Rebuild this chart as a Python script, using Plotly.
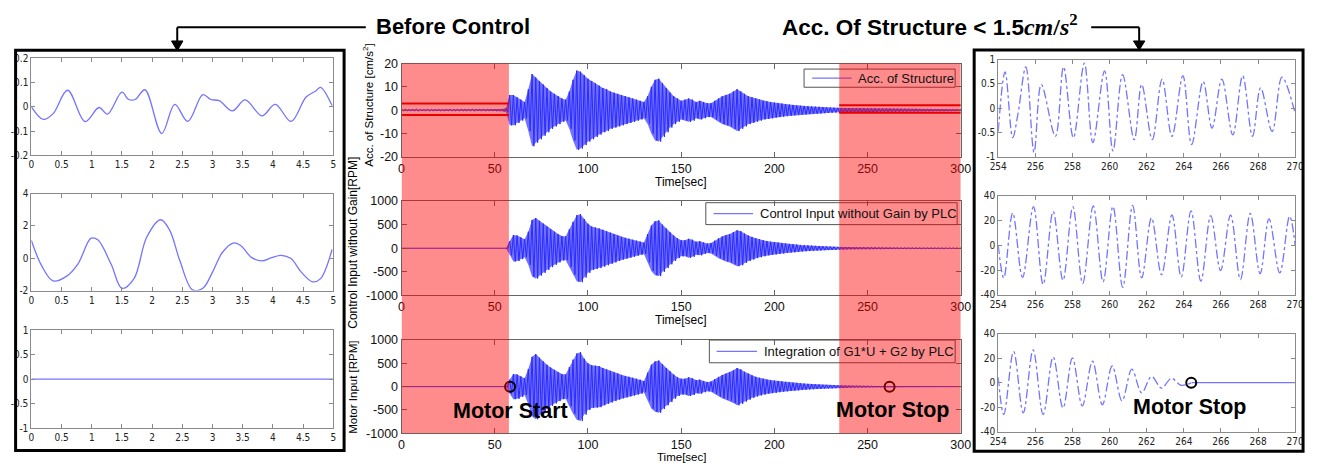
import numpy as np
import plotly.graph_objects as go

W, H = 1317, 470

# ---------------- data ----------------
# Left column: "Before Control" (0-5 s)
bc_t_acc = [0, 0.2, 0.36, 0.6, 0.89, 1.12, 1.26, 1.5, 1.61, 1.72, 1.88, 2.16, 2.375, 2.59,
            2.84, 2.97, 3.11, 3.33, 3.54, 3.82, 4.04, 4.3, 4.55, 4.71, 4.79, 4.98]
bc_acc = [0, -0.052, -0.028, 0.068, -0.061, -0.003, -0.03, 0.06, 0.03, 0.03, 0.07, -0.11, 0.01, -0.06,
          0.05, 0.03, 0.025, -0.017, 0.028, -0.037, 0.01, -0.06, 0.04, 0.065, 0.08, 0.005]
bc_t_ctrl = [0, 0.17, 0.36, 0.58, 0.77, 0.99, 1.1, 1.32, 1.5, 1.7, 1.91, 2.14, 2.29, 2.46, 2.67,
             2.84, 3.0, 3.16, 3.34, 3.46, 3.65, 3.82, 3.98, 4.14, 4.3, 4.47, 4.66, 4.79, 4.98]
bc_ctrl = [1.1, -0.46, -1.4, -1.12, -0.36, 1.24, 1.14, -0.36, -1.86, -1.26, 1.3, 2.38, 1.74, -0.16, -1.96,
           -1.86, -0.86, 0.34, 0.94, 0.8, 0.04, -0.16, 0.04, 0.18, -0.02, -0.86, -1.46, -1.26, 0.54]
bc_t_motor = [0, 5]
bc_motor = [0, 0]

# Centre column: whole test (0-300 s), envelope amplitude every 2 s
env_t = list(range(0, 301, 2))
acc_amp = ([0.3, 0.4, 0.3, 0.3, 0.4, 0.3, 0.3, 0.4, 0.3, 0.3, 0.4, 0.3, 0.3, 0.4, 0.3,
            0.3, 0.4, 0.3, 0.3, 0.4, 0.3, 0.3, 0.4, 0.3, 0.3, 0.4, 0.3, 0.5, 0.8] +
           [6.5, 6.5, 5.5, 4.5, 3.5, 9, 15.5, 14, 12.5, 11,
            9.5, 8, 7, 6, 5, 4.5, 8, 13, 17, 16.5,
            15, 13.5, 12.5, 11.5, 10.5, 9.5, 9, 8, 7.5, 7,
            6.5, 6, 5.5, 5, 4.5, 4, 3.5, 6, 10, 13,
            13.5, 11.5, 9.5, 7.5, 6, 5, 4, 4.5, 5, 4.5,
            3.5, 4, 3.5, 3, 3, 4, 5, 6, 6.5, 7,
            8, 9, 8, 7, 6, 5.5, 5, 4.5, 4, 3.8,
            3.5, 3.2, 3, 2.8, 2.6, 2.4, 2.2, 2, 1.9, 1.8,
            1.7, 1.6, 1.5, 1.4, 1.3, 1.2, 1.1, 1.0, 1.0] +
           [0.9, 0.9, 0.9, 0.85, 0.85, 0.8, 0.8, 0.8, 0.75, 0.75,
            0.7, 0.7, 0.7, 0.65, 0.65, 0.6, 0.6, 0.6, 0.55, 0.55,
            0.55, 0.5, 0.5, 0.5, 0.5, 0.45, 0.45, 0.45, 0.45, 0.4,
            0.4, 0.4, 0.4])
ctrl_amp = ([0] * 29 +
            [150, 280, 270, 230, 190, 350, 600, 640, 580, 520,
             460, 400, 350, 300, 260, 250, 400, 560, 700, 720,
             620, 520, 460, 440, 420, 390, 360, 330, 300, 270,
             240, 220, 200, 180, 160, 140, 120, 300, 480, 570,
             590, 500, 420, 340, 270, 210, 170, 170, 200, 180,
             140, 150, 120, 100, 110, 160, 210, 250, 280, 300,
             340, 380, 360, 310, 270, 240, 210, 190, 170, 150,
             140, 130, 120, 110, 100, 90, 85, 80, 70, 65,
             60, 55, 50, 45, 40, 38, 35, 32, 30] +
            [28, 26, 24, 22, 20, 19, 18, 17, 16, 15,
             14, 13, 12, 12, 11, 11, 10, 10, 10, 9,
             9, 9, 8, 8, 8, 8, 7, 7, 7, 7,
             7, 6, 6])
motor_amp = ([0] * 29 +
             [150, 270, 260, 220, 180, 380, 640, 700, 620, 540,
              470, 410, 360, 310, 270, 260, 420, 580, 710, 740,
              600, 500, 460, 450, 440, 400, 370, 340, 310, 280,
              250, 230, 210, 190, 170, 150, 120, 300, 470, 540,
              560, 480, 400, 330, 260, 200, 170, 170, 200, 180,
              140, 150, 120, 100, 110, 160, 210, 250, 280, 310,
              350, 400, 370, 320, 280, 240, 210, 190, 170, 150,
              140, 130, 120, 110, 100, 90, 85, 80, 70, 65,
              60, 55, 50, 45, 40, 38, 35, 32, 30] +
             [28, 25, 22, 20, 18, 16, 14, 12, 10, 8,
              6, 4, 2, 0, 0, 0, 0, 0, 0, 0,
              0, 0, 0, 0, 0, 0, 0, 0, 0, 0,
              0, 0, 0])
series_names = ['Acc. of Structure', 'Control Input without Gain by PLC', 'Integration of G1*U + G2 by PLC']
red_start = [0, 234.8]
red_end = [57.6, 300]
thr_t = [[0, 57.6], [234.8, 300]]
thr_hi = [2.8, 2.1]
thr_lo = [-2.1, -1.1]
motor_events_t = [58.2, 261.8]
motor_events_y = [0, 0]

# Right column: after control (254-270 s)
ac_t_acc = [254, 254.37, 254.78, 255.05, 255.49, 255.93, 256.32, 257.08, 257.52, 258.05, 258.64, 259.1,
            259.73, 260.18, 260.7, 261.33, 261.73, 262.3, 262.83, 263.36, 263.95, 264.42, 265.04,
            265.52, 266.05, 266.64, 267.17, 267.7, 268.14, 268.76, 269.29, 270]
ac_acc = [-0.48, 0.75, -0.61, -0.15, 0.85, -0.91, 0.49, -0.58, 0.85, -0.61, 0.93, -0.71,
          0.77, -0.88, 0.69, -0.65, 0.49, -0.65, 0.6, -0.58, 0.67, -0.75, 0.55,
          -0.41, 0.6, -0.55, 0.67, -0.58, 0.42, -0.48, 0.64, -0.11]
ac_t_ctrl = [254, 254.3, 254.78, 255.31, 255.9, 256.42, 256.96, 257.49, 258.02, 258.55, 259.12, 259.65,
             260.18, 260.71, 261.24, 261.73, 262.26, 262.8, 263.36, 263.86, 264.39, 264.92, 265.45,
             265.98, 266.52, 267.05, 267.58, 268.11, 268.59, 269.17, 269.7, 270]
ac_ctrl = [0, -26.4, 26, -26, 31, -31.6, 27.2, -28.3, 31, -30.9, 31.6, -29.6,
           31.1, -34, 32, -26.4, 22, -23.8, 24.3, -25.7, 27.7, -29, 23.8,
           -20.4, 24.3, -27.7, 25.6, -23, 21.2, -22.3, 23.3, 0]
ac_t_motor = [254, 254.3, 254.83, 255.35, 255.88, 256.42, 256.96, 257.49, 258.0, 258.53, 259.08, 259.61,
              260.14, 260.67, 261.2, 261.73, 262.26, 262.8, 263.33, 263.86, 264.42, 270]
ac_motor = [4.4, -26, 25.5, -24.7, 26.8, -26, 21, -20.7, 20.2, -18.9, 17.5, -18,
            13.6, -14.9, 11, -8.3, 5.1, -4.4, 3.6, -2.2, 0, 0]
ac_stop_t = [264.4]
ac_stop_y = [0]

# tick labels
left_xt = [0, 0.5, 1, 1.5, 2, 2.5, 3, 3.5, 4, 4.5, 5]
left_xl = ['0', '0.5', '1', '1.5', '2', '2.5', '3', '3.5', '4', '4.5', '5']
L1_yt, L1_yl = [-0.2, -0.1, 0, 0.1, 0.2], ['-0.2', '-0.1', '0', '0.1', '0.2']
L2_yt, L2_yl = [-2, 0, 2, 4], ['-2', '0', '2', '4']
L3_yt, L3_yl = [-1, -0.5, 0, 0.5, 1], ['-1', '-0.5', '0', '0.5', '1']
ctr_xt = [0, 50, 100, 150, 200, 250, 300]
ctr_xl = ['0', '50', '100', '150', '200', '250', '300']
C1_yt, C1_yl = [-20, -10, 0, 10, 20], ['-20', '-10', '0', '10', '20']
C2_yt, C2_yl = [-1000, -500, 0, 500, 1000], ['-1000', '-500', '0', '500', '1000']
right_xt = [254, 256, 258, 260, 262, 264, 266, 268, 270]
right_xl = ['254', '256', '258', '260', '262', '264', '266', '268', '270']
R1_yt, R1_yl = [-1, -0.5, 0, 0.5, 1], ['-1', '-0.5', '0', '0.5', '1']
R2_yt, R2_yl = [-40, -20, 0, 20, 40], ['-40', '-20', '0', '20', '40']

# ---------------- helpers ----------------
def px(x):
    return x / W


def py(y):
    return 1 - y / H


def dx(a, b):
    return [px(a), px(b)]


def dy(top, bottom):
    return [py(bottom), py(top)]


SANS = 'Liberation Sans, Arial, sans-serif'
NARROW = 'Liberation Sans Narrow, DejaVu Sans Condensed, sans-serif'

fig = go.Figure()

LIGHT = '#7474ff'
DARK = '#2b2bff'

# left column
fig.add_trace(go.Scatter(x=bc_t_acc, y=bc_acc, mode='lines', line=dict(color=LIGHT, width=1.3, shape='spline'),
                         xaxis='x', yaxis='y', showlegend=False))
fig.add_trace(go.Scatter(x=bc_t_ctrl, y=bc_ctrl, mode='lines', line=dict(color=LIGHT, width=1.3, shape='spline'),
                         xaxis='x2', yaxis='y2', showlegend=False))
fig.add_trace(go.Scatter(x=bc_t_motor, y=bc_motor, mode='lines', line=dict(color=LIGHT, width=1.3),
                         xaxis='x3', yaxis='y3', showlegend=False))

# centre column
def band(amp, xa, ya, name):
    t = np.array(env_t, dtype=float)
    a = np.array(amp, dtype=float)
    fig.add_trace(go.Scatter(x=np.concatenate([t, t[::-1]]), y=np.concatenate([a, -a[::-1]]),
                             fill='toself', fillcolor='rgba(60,60,255,0.72)', line=dict(width=0),
                             mode='lines', xaxis=xa, yaxis=ya, showlegend=False, hoverinfo='skip'))
    zx = np.empty(2 * len(t))
    zy = np.empty(2 * len(t))
    zx[0::2] = t
    zx[1::2] = t + 1
    zy[0::2] = a
    zy[1::2] = -a
    fig.add_trace(go.Scatter(x=zx, y=zy, mode='lines', line=dict(color=DARK, width=1), name=name,
                             xaxis=xa, yaxis=ya, showlegend=False))


band(acc_amp, 'x4', 'y4', series_names[0])
band(ctrl_amp, 'x5', 'y5', series_names[1])
band(motor_amp, 'x6', 'y6', series_names[2])

for tt, hi, lo in zip(thr_t, thr_hi, thr_lo):
    fig.add_trace(go.Scatter(x=tt, y=[hi, hi], mode='lines', line=dict(color='#d80000', width=2),
                             xaxis='x4', yaxis='y4', showlegend=False))
    fig.add_trace(go.Scatter(x=tt, y=[lo, lo], mode='lines', line=dict(color='#d80000', width=2),
                             xaxis='x4', yaxis='y4', showlegend=False))

fig.add_trace(go.Scatter(x=motor_events_t, y=motor_events_y, mode='markers',
                         marker=dict(symbol='circle-open', size=10, color='black', line=dict(width=2)),
                         xaxis='x6', yaxis='y6', showlegend=False))

# right column
fig.add_trace(go.Scatter(x=ac_t_acc, y=ac_acc, mode='lines',
                         line=dict(color=LIGHT, width=1.3, shape='spline', dash='dashdot'),
                         xaxis='x7', yaxis='y7', showlegend=False))
fig.add_trace(go.Scatter(x=ac_t_ctrl, y=ac_ctrl, mode='lines',
                         line=dict(color=LIGHT, width=1.3, shape='spline', dash='dashdot'),
                         xaxis='x8', yaxis='y8', showlegend=False))
fig.add_trace(go.Scatter(x=ac_t_motor[:-1], y=ac_motor[:-1], mode='lines',
                         line=dict(color=LIGHT, width=1.3, shape='spline', dash='dashdot'),
                         xaxis='x9', yaxis='y9', showlegend=False))
fig.add_trace(go.Scatter(x=ac_t_motor[-2:], y=ac_motor[-2:], mode='lines',
                         line=dict(color=LIGHT, width=1.3),
                         xaxis='x9', yaxis='y9', showlegend=False))
fig.add_trace(go.Scatter(x=ac_stop_t, y=ac_stop_y, mode='markers',
                         marker=dict(symbol='circle-open', size=10, color='black', line=dict(width=2)),
                         xaxis='x9', yaxis='y9', showlegend=False))

# ---------------- axes ----------------
def small_ax(domain, rng, tv, tt, anchor):
    return dict(domain=domain, range=rng, tickvals=tv, ticktext=tt, anchor=anchor,
                showline=True, linecolor='#8a8a8a', linewidth=1, mirror='ticks', ticks='inside',
                ticklen=4, tickcolor='#8a8a8a', showgrid=False, zeroline=False,
                tickfont=dict(family=NARROW, size=10, color='#222'))


def ctr_ax(domain, rng, tv, tt, anchor):
    return dict(domain=domain, range=rng, tickvals=tv, ticktext=tt, anchor=anchor,
                showline=True, linecolor='#666', linewidth=1, mirror='ticks', ticks='inside',
                ticklen=5, tickcolor='#666', showgrid=False, zeroline=False,
                tickfont=dict(family=SANS, size=12.5, color='#111'))


LX = dx(22.7, 329)
CX = dx(398.3, 965.7)
RX = dx(1003.7, 1305)

layout_axes = {
    'xaxis': small_ax(LX, [0, 5], left_xt, left_xl, 'y'),
    'yaxis': small_ax(dy(52.7, 153), [-0.2, 0.2], L1_yt, L1_yl, 'x'),
    'xaxis2': small_ax(LX, [0, 5], left_xt, left_xl, 'y2'),
    'yaxis2': small_ax(dy(192.3, 292.3), [-2, 4], L2_yt, L2_yl, 'x2'),
    'xaxis3': small_ax(LX, [0, 5], left_xt, left_xl, 'y3'),
    'yaxis3': small_ax(dy(333.3, 434), [-1, 1], L3_yt, L3_yl, 'x3'),
    'xaxis4': ctr_ax(CX, [0, 300], ctr_xt, ctr_xl, 'y4'),
    'yaxis4': ctr_ax(dy(58.3, 154.3), [-20, 20], C1_yt, C1_yl, 'x4'),
    'xaxis5': ctr_ax(CX, [0, 300], ctr_xt, ctr_xl, 'y5'),
    'yaxis5': ctr_ax(dy(200, 297.3), [-1000, 1000], C2_yt, C2_yl, 'x5'),
    'xaxis6': ctr_ax(CX, [0, 300], ctr_xt, ctr_xl, 'y6'),
    'yaxis6': ctr_ax(dy(343.3, 439.3), [-1000, 1000], C2_yt, C2_yl, 'x6'),
    'xaxis7': small_ax(RX, [254, 270], right_xt, right_xl, 'y7'),
    'yaxis7': small_ax(dy(54.3, 154.3), [-1, 1], R1_yt, R1_yl, 'x7'),
    'xaxis8': small_ax(RX, [254, 270], right_xt, right_xl, 'y8'),
    'yaxis8': small_ax(dy(194.3, 296.7), [-40, 40], R2_yt, R2_yl, 'x8'),
    'xaxis9': small_ax(RX, [254, 270], right_xt, right_xl, 'y9'),
    'yaxis9': small_ax(dy(336.7, 437.7), [-40, 40], R2_yt, R2_yl, 'x9'),
}

# ---------------- shapes ----------------
shapes = []


def seg(x0, y0, x1, y1, color='black', width=2):
    return dict(type='line', xref='paper', yref='paper', x0=px(x0), y0=py(y0), x1=px(x1), y1=py(y1),
                line=dict(color=color, width=width), layer='above')


# legend boxes (box, sample line) drawn under the red overlay
legend_boxes = [(806.7, 64, 960, 82.7), (707, 201.7, 962, 224.3), (710.6, 343.3, 960, 366.7)]
legend_lines = [(815, 855), (715, 755), (718, 759)]
legend_text_x = [859, 760, 764]
for (x0, y0, x1, y1), (l0, l1) in zip(legend_boxes, legend_lines):
    shapes.append(dict(type='rect', xref='paper', yref='paper', x0=px(x0), x1=px(x1), y0=py(y1), y1=py(y0),
                       line=dict(color='#555', width=1), fillcolor='rgba(255,255,255,0)', layer='above'))
    shapes.append(seg(l0, (y0 + y1) / 2, l1, (y0 + y1) / 2, color=LIGHT, width=1.3))

for s, e in zip(red_start, red_end):
    shapes.append(dict(type='rect', xref='x4', yref='paper', x0=s, x1=e, y0=py(439.3), y1=py(58.3),
                       fillcolor='rgba(255,0,0,0.45)', line=dict(width=0), layer='above'))
# framing boxes
shapes.append(dict(type='rect', xref='paper', yref='paper', x0=px(6.7), x1=px(340), y0=py(457), y1=py(44.5),
                   line=dict(color='black', width=3), layer='above'))
shapes.append(dict(type='rect', xref='paper', yref='paper', x0=px(979.3), x1=px(1313), y0=py(458), y1=py(44.3),
                   line=dict(color='black', width=3), layer='above'))


def tri(xc, ytop, ytip, hw=5.8):
    p = 'M {},{} L {},{} L {},{} Z'.format(px(xc - hw), py(ytop), px(xc + hw), py(ytop), px(xc), py(ytip))
    return dict(type='path', xref='paper', yref='paper', path=p, fillcolor='black',
                line=dict(color='black', width=1), layer='above')


shapes += [seg(362, 21, 170.7, 21), seg(170.7, 21, 170.7, 36), tri(170.7, 35, 45),
           seg(1098, 21, 1146.7, 21), seg(1146.7, 21, 1146.7, 36), tri(1146.7, 35, 44.5)]

# ---------------- annotations ----------------
def ann(text, x, y, size, xanchor='center', angle=0, color='black'):
    return dict(text=text, x=px(x), y=py(y), xref='paper', yref='paper', showarrow=False,
                xanchor=xanchor, yanchor='middle', textangle=angle,
                font=dict(family=SANS, size=size, color=color))


annotations = [
    ann('<b>Before Control</b>', 450, 20, 22),
    ann('<b>Acc. Of Structure &lt; 1.5</b><span style="font-family:Liberation Serif;font-size:24px">'
        '<b><i>cm</i>/<i>s</i></b><sup><b>2</b></sup></span>',
        1087, 19, 22.5, xanchor='right'),
    ann('Acc. of Structure [cm/s<sup>2</sup>]', 364, 101, 11.5, angle=-90),
    ann('Control Input without Gain[RPM]', 349, 243, 12, angle=-90),
    ann('Motor Input [RPM]', 349, 391.5, 11.5, angle=-90),
    ann('Time[sec]', 682, 180, 12),
    ann('Time[sec]', 682, 323, 12),
    ann('Time[sec]', 682, 463.8, 11.5),
    ann('<b>Motor Start</b>', 508.5, 416.5, 21.5),
    ann('<b>Motor Stop</b>', 896.5, 415, 21.5),
    ann('<b>Motor Stop</b>', 1197.5, 412, 21.5),
]
for (x0, y0, x1, y1), tx, nm in zip(legend_boxes, legend_text_x, series_names):
    annotations.append(ann(nm, tx, (y0 + y1) / 2, 13, xanchor='left', color='#111'))

fig.update_layout(
    width=W, height=H, margin=dict(l=0, r=0, t=0, b=0),
    paper_bgcolor='white', plot_bgcolor='white', showlegend=False,
    shapes=shapes, annotations=annotations,
    **layout_axes,
)

fig.write_html('out.html')
